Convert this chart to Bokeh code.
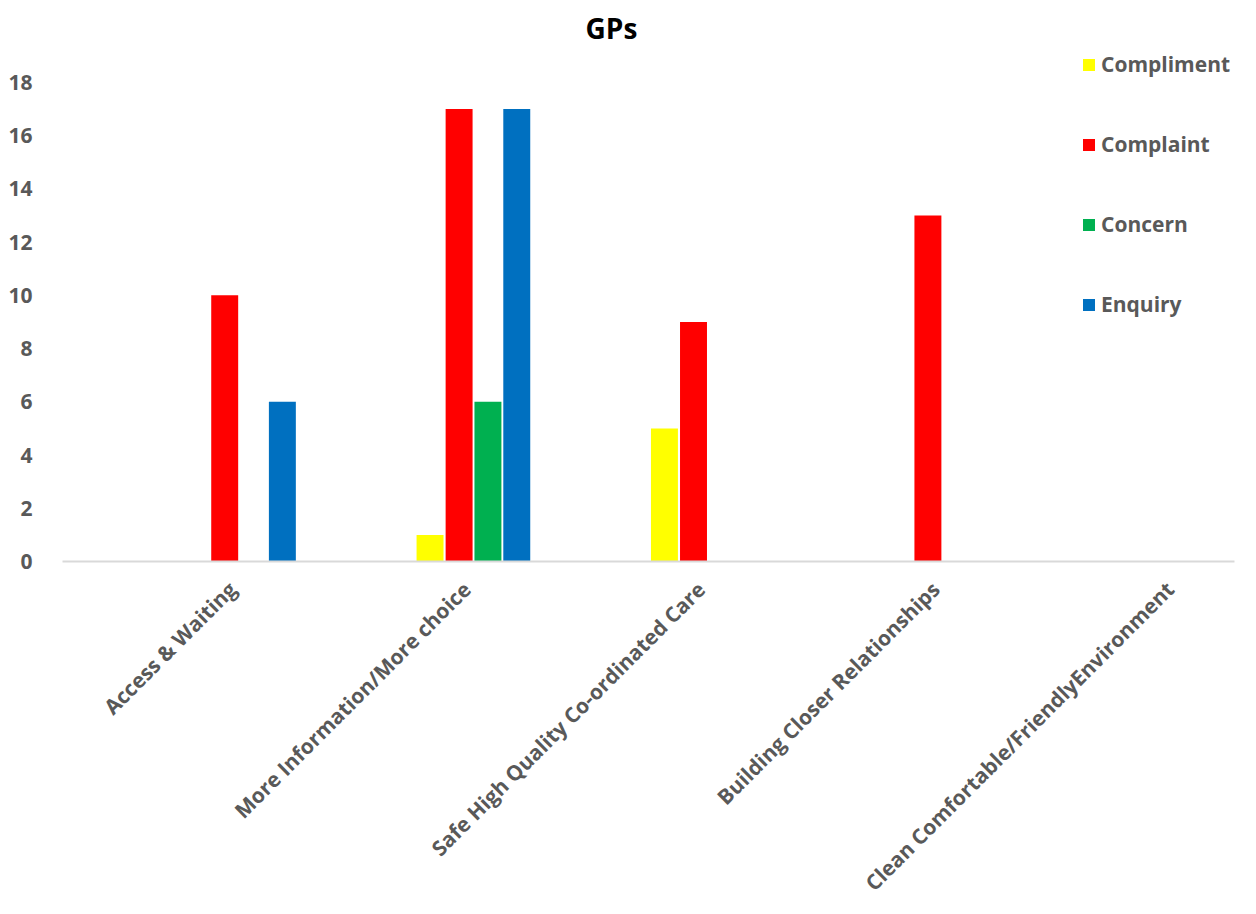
import math
from bokeh.plotting import figure
from bokeh.models import (ColumnDataSource, Range1d, FixedTicker, Legend, LegendItem, Label)
from bokeh.embed import file_html
from bokeh.resources import INLINE

categories = ["Access & Waiting", "More Information/More choice",
              "Safe High Quality Co-ordinated Care", "Building Closer Relationships",
              "Clean Comfortable/FriendlyEnvironment"]
series_names = ["Compliment", "Complaint", "Concern", "Enquiry"]
compliment = [0, 1, 5, 0, 0]
complaint = [10, 17, 9, 13, 0]
concern = [0, 6, 0, 0, 0]
enquiry = [6, 17, 0, 0, 0]
colors = ["#FFFF00", "#FF0000", "#00B050", "#0070C0"]
y_ticks = [0, 2, 4, 6, 8, 10, 12, 14, 16, 18]
title_text = "GPs"

# layout constants (within-category offsets of each series)
offsets = [0.068, 0.192, 0.315, 0.438]
bar_w = 0.115
label_shift = 0.225

FONT = "Open Sans"
GREY = "#595959"

p = figure(width=1256, height=914, output_backend="svg", toolbar_location=None,
           x_range=Range1d(0, len(categories)), y_range=Range1d(0, 21.08),
           min_border_left=62, min_border_right=22, min_border_top=0, min_border_bottom=353)
p.outline_line_color = None
p.xgrid.visible = False
p.ygrid.visible = False
p.background_fill_color = "white"
p.border_fill_color = "white"

values = [compliment, complaint, concern, enquiry]
renderers = []
for name, vals, col, off in zip(series_names, values, colors, offsets):
    xs = [i + 0.5 + off for i in range(len(categories))]
    src = ColumnDataSource(dict(x=xs, top=vals))
    r = p.vbar(x="x", top="top", width=bar_w, bottom=0, source=src,
               fill_color=col, line_color=None)
    renderers.append(r)

# x axis
tick_pos = [i + 0.5 + label_shift for i in range(len(categories))]
p.xaxis.ticker = FixedTicker(ticks=tick_pos)
p.xaxis.major_label_overrides = {t: c for t, c in zip(tick_pos, categories)}
p.xaxis.major_label_orientation = math.pi / 4
p.xaxis.major_tick_line_color = None
p.xaxis.minor_tick_line_color = None
p.xaxis.axis_line_color = "#D9D9D9"
p.xaxis.axis_line_width = 2
p.xaxis.major_label_text_font = FONT
p.xaxis.major_label_text_font_style = "bold"
p.xaxis.major_label_text_font_size = "21px"
p.xaxis.major_label_text_color = GREY
p.xaxis.major_label_standoff = 18

# y axis
p.yaxis.ticker = FixedTicker(ticks=y_ticks)
p.yaxis.axis_line_color = None
p.yaxis.major_tick_line_color = None
p.yaxis.minor_tick_line_color = None
p.yaxis.major_label_text_font = FONT
p.yaxis.major_label_text_font_style = "bold"
p.yaxis.major_label_text_font_size = "21px"
p.yaxis.major_label_text_color = GREY
p.yaxis.major_label_standoff = 24

# title
p.add_layout(Label(x=2.342, y=20.03, text=title_text, text_font=FONT, text_font_style="bold",
                   text_font_size="28px", text_color="black", text_align="center",
                   text_baseline="middle"))

legend = Legend(items=[LegendItem(label=n, renderers=[r]) for n, r in zip(series_names, renderers)],
                location=(1019, 243), orientation="vertical")
legend.background_fill_alpha = 0
legend.border_line_color = None
legend.padding = 0
legend.margin = 0
legend.spacing = 52
legend.glyph_width = 15
legend.glyph_height = 15
legend.label_height = 24
legend.label_standoff = 5
legend.label_text_font = FONT
legend.label_text_font_style = "bold"
legend.label_text_font_size = "21px"
legend.label_text_color = GREY
p.add_layout(legend)

open("out.html", "w").write(file_html(p, INLINE))
